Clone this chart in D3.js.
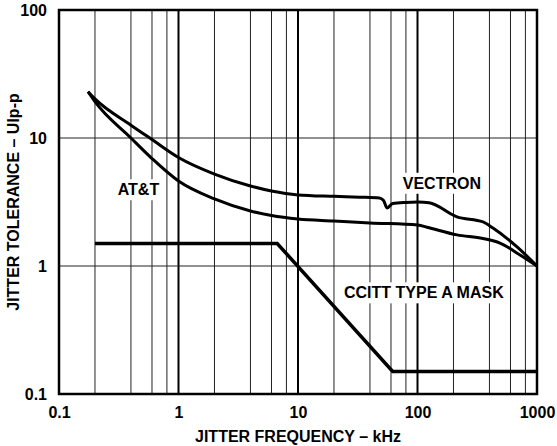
<!DOCTYPE html>
<html>
<head>
<meta charset="utf-8">
<script src="https://cdn.jsdelivr.net/npm/d3@7"></script>
<style>
  body { margin: 0; background: #fff; }
  text { font-family: Arial, "Liberation Sans", Helvetica, sans-serif; font-weight: bold; fill: #000; }
</style>
</head>
<body>
<div id="chart"></div>
<script>
// x: jitter frequency (kHz), y: jitter tolerance (UIp-p)
const freqTicks = [0.1, 1, 10, 100, 1000];
const tolTicks = [0.1, 1, 10, 100];
const gridMultiples = [2, 4, 6, 8];

const vectronFreq = [0.175, 0.2, 0.4, 0.6, 1, 2, 4, 6, 10, 20, 33, 48, 52, 55.6, 62, 80, 101, 125, 214, 353, 428, 681, 1000];
const vectronTol  = [23, 20.2, 12.6, 9.73, 7.05, 5.23, 4.22, 3.85, 3.59, 3.5, 3.45, 3.4, 3.25, 2.84, 3.08, 3.14, 3.16, 3.12, 2.42, 2.21, 1.98, 1.41, 1];

const attFreq = [0.175, 0.2, 0.4, 0.6, 1, 2, 4, 6, 10, 20, 40, 101, 120, 214, 353, 490, 721, 1000];
const attTol  = [23, 19.2, 10, 6.91, 4.61, 3.34, 2.69, 2.48, 2.33, 2.25, 2.17, 2.09, 2.01, 1.75, 1.64, 1.51, 1.22, 1];

const maskFreq = [0.2, 6.7, 62, 1000];
const maskTol  = [1.5, 1.5, 0.15, 0.15];

const labels = [
  { text: "AT&T", f: 0.462, t: 3.96 },
  { text: "VECTRON", f: 160, t: 4.45 },
  { text: "CCITT TYPE A MASK", f: 113, t: 0.62 }
];

const W = 557, H = 446;
const margin = { top: 10, right: 20, bottom: 52, left: 59 };
const width = W - margin.left - margin.right;
const height = H - margin.top - margin.bottom;

const svg = d3.select("#chart").append("svg")
  .attr("width", W)
  .attr("height", H);

const g = svg.append("g").attr("transform", `translate(${margin.left},${margin.top})`);

const x = d3.scaleLog().domain([0.1, 1000]).range([0, width]);
const y = d3.scaleLog().domain([0.1, 100]).range([height, 0]);

// vertical grid: 2,4,6,8 of each decade plus the decades
const minorX = [];
freqTicks.slice(0, -1).forEach(d => gridMultiples.forEach(m => minorX.push(d * m)));
g.selectAll(".vgrid").data(minorX).enter().append("line")
  .attr("class", "vgrid")
  .attr("x1", d => x(d)).attr("x2", d => x(d))
  .attr("y1", 0).attr("y2", height)
  .attr("stroke", "#222").attr("stroke-width", 1);
g.selectAll(".vdec").data(freqTicks.slice(1, -1)).enter().append("line")
  .attr("class", "vdec")
  .attr("x1", d => x(d)).attr("x2", d => x(d))
  .attr("y1", 0).attr("y2", height)
  .attr("stroke", "#000").attr("stroke-width", 2);
g.selectAll(".hgrid").data(tolTicks.slice(1, -1)).enter().append("line")
  .attr("class", "hgrid")
  .attr("x1", 0).attr("x2", width)
  .attr("y1", d => y(d)).attr("y2", d => y(d))
  .attr("stroke", "#222").attr("stroke-width", 1);

// curves
const line = d3.line()
  .x(d => x(d[0]))
  .y(d => y(d[1]))
  .curve(d3.curveMonotoneX);

const series = [
  d3.zip(vectronFreq, vectronTol),
  d3.zip(attFreq, attTol)
];
g.selectAll(".curve").data(series).enter().append("path")
  .attr("class", "curve")
  .attr("d", line)
  .attr("fill", "none")
  .attr("stroke", "#000")
  .attr("stroke-width", 3);

g.append("path")
  .datum(d3.zip(maskFreq, maskTol))
  .attr("d", d3.line().x(d => x(d[0])).y(d => y(d[1])))
  .attr("fill", "none")
  .attr("stroke", "#000")
  .attr("stroke-width", 3.5);

// labels with white boxes
labels.forEach(l => {
  const t = g.append("text")
    .attr("x", x(l.f))
    .attr("y", y(l.t))
    .attr("text-anchor", "middle")
    .attr("dy", "0.36em")
    .style("font-size", "16px")
    .text(l.text);
  const bb = t.node().getBBox();
  g.insert("rect", "text")
    .attr("x", bb.x - 4).attr("y", bb.y - 2)
    .attr("width", bb.width + 8).attr("height", bb.height + 4)
    .attr("fill", "#fff");
});

// frame
g.append("rect")
  .attr("width", width).attr("height", height)
  .attr("fill", "none").attr("stroke", "#000").attr("stroke-width", 2.5);

// axes
const xAxis = g.append("g")
  .attr("transform", `translate(0,${height})`)
  .call(d3.axisBottom(x).tickValues(freqTicks).tickFormat(d3.format("~g")).tickSize(0).tickPadding(13));
const yAxis = g.append("g")
  .call(d3.axisLeft(y).tickValues(tolTicks).tickFormat(d3.format("~g")).tickSize(0).tickPadding(12));
[xAxis, yAxis].forEach(a => {
  a.select(".domain").remove();
  a.selectAll("text").style("font-size", "16px").style("font-family", null).attr("fill", "#000");
});

svg.append("text")
  .attr("x", margin.left + width / 2)
  .attr("y", 442)
  .attr("text-anchor", "middle")
  .style("font-size", "16px")
  .text("JITTER FREQUENCY – kHz");

svg.append("text")
  .attr("transform", `translate(19,${margin.top + height / 2}) rotate(-90)`)
  .attr("text-anchor", "middle")
  .style("font-size", "16px")
  .text("JITTER TOLERANCE – UIp-p");
</script>
</body>
</html>
